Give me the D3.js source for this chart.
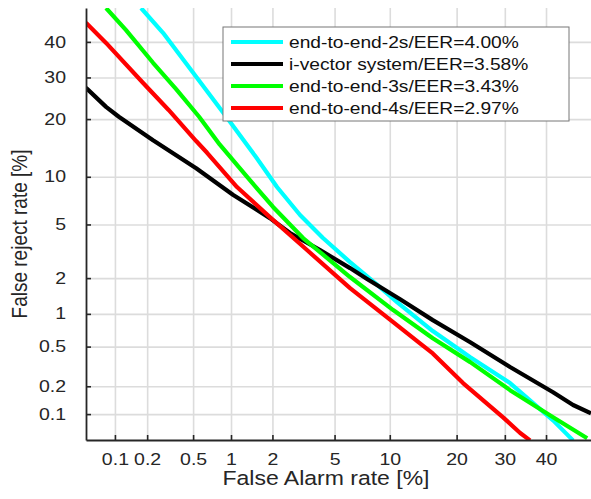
<!DOCTYPE html>
<html>
<head>
<meta charset="utf-8">
<script src="https://cdnjs.cloudflare.com/ajax/libs/d3/7.8.5/d3.min.js"></script>
<style>
  body { margin: 0; background: #fff; }
  text { font-family: "Liberation Sans", Arial, Helvetica, sans-serif; }
</style>
</head>
<body>
<div id="canvas"></div>
<script>
// tick labels (percent)
const xTicks = [0.1, 0.2, 0.5, 1, 2, 5, 10, 20, 30, 40];
const yTicks = [0.1, 0.2, 0.5, 1, 2, 5, 10, 20, 30, 40];
const xLim = [0.0518, 51.7];
const yLim = [0.0505, 50.2];

// DET curves, [false alarm %, false reject %]
const e2e2s = [[0.176, 50.2], [0.277, 42.7], [0.53, 30.2], [0.92, 20.5], [1.53, 12.9], [2.15, 8.7],
  [3.06, 5.79], [4.26, 4.02], [6.14, 2.67], [8.42, 1.82], [10.9, 1.26], [15.9, 0.70],
  [22.6, 0.395], [31.2, 0.216], [41.8, 0.085], [47.0, 0.050]];
const ivector = [[0.0518, 27.3], [0.082, 22.7], [0.109, 20.5], [0.226, 15.8], [0.53, 11.2], [1.04, 7.78],
  [1.92, 5.52], [2.63, 4.36], [4.09, 3.29], [6.14, 2.40], [7.62, 1.97], [11.25, 1.34], [15.9, 0.88],
  [22.6, 0.55], [31.2, 0.315], [41.8, 0.173], [47.0, 0.126], [51.7, 0.102]];
const e2e3s = [[0.082, 50.2], [0.127, 43.6], [0.226, 34.0], [0.36, 27.0], [0.56, 20.5], [0.82, 15.0],
  [1.32, 9.98], [2.02, 6.53], [3.2, 4.02], [6.14, 2.04], [10.4, 1.08], [15.9, 0.60],
  [22.6, 0.353], [31.2, 0.182], [41.8, 0.092], [50.7, 0.053]];
const e2e4s = [[0.0518, 45.7], [0.082, 39.7], [0.183, 28.6], [0.31, 22.0], [0.53, 15.65],
  [0.65, 13.6], [1.11, 8.7], [1.92, 5.6], [3.39, 3.29], [6.14, 1.66], [10.4, 0.845],
  [13.9, 0.54], [15.9, 0.43], [21.2, 0.216], [29.6, 0.092], [33.6, 0.061], [36.0, 0.050]];

const seriesNames = ["end-to-end-2s/EER=4.00%", "i-vector system/EER=3.58%",
  "end-to-end-3s/EER=3.43%", "end-to-end-4s/EER=2.97%"];
const seriesColors = ["#00ffff", "#000000", "#00ff00", "#ff0000"];
const seriesData = [e2e2s, ivector, e2e3s, e2e4s];

// inverse normal cdf (Acklam)
function probit(p) {
  const a = [-3.969683028665376e+01, 2.209460984245205e+02, -2.759285104469687e+02, 1.383577518672690e+02, -3.066479806614716e+01, 2.506628277459239e+00];
  const b = [-5.447609879822406e+01, 1.615858368580409e+02, -1.556989798598866e+02, 6.680131188771972e+01, -1.328068155288572e+01];
  const c = [-7.784894002430293e-03, -3.223964580411365e-01, -2.400758277161838e+00, -2.549732539343734e+00, 4.374664141464968e+00, 2.938163982698783e+00];
  const d = [7.784695709041462e-03, 3.224671290700398e-01, 2.445134137142996e+00, 3.754408661907416e+00];
  const plow = 0.02425;
  let q, r;
  if (p < plow) {
    q = Math.sqrt(-2 * Math.log(p));
    return (((((c[0]*q+c[1])*q+c[2])*q+c[3])*q+c[4])*q+c[5]) / ((((d[0]*q+d[1])*q+d[2])*q+d[3])*q+1);
  } else if (p <= 1 - plow) {
    q = p - 0.5; r = q * q;
    return (((((a[0]*r+a[1])*r+a[2])*r+a[3])*r+a[4])*r+a[5])*q / (((((b[0]*r+b[1])*r+b[2])*r+b[3])*r+b[4])*r+1);
  }
  q = Math.sqrt(-2 * Math.log(1 - p));
  return -(((((c[0]*q+c[1])*q+c[2])*q+c[3])*q+c[4])*q+c[5]) / ((((d[0]*q+d[1])*q+d[2])*q+d[3])*q+1);
}
const pz = v => probit(v / 100);

const w = 591, h = 499;
const margin = {top: 8, bottom: 59, left: 86, right: 0};
const width = w - margin.left - margin.right;
const height = h - margin.top - margin.bottom;
const stretch = 1.22; // text in the original is drawn a bit wide

const svg = d3.select("#canvas").append("svg").attr("width", w).attr("height", h);
const g = svg.append("g").attr("transform", `translate(${margin.left},${margin.top})`);

const x = d3.scaleLinear().domain(xLim.map(pz)).range([0, width]);
const y = d3.scaleLinear().domain(yLim.map(pz)).range([height, 0]);

// grid
g.append("g").attr("transform", `translate(0,${height})`)
  .call(d3.axisBottom(x).tickValues(xTicks.map(pz)).tickSize(-height).tickFormat(""))
  .call(s => s.select(".domain").remove())
  .selectAll("line").attr("stroke", "#dcdcdc").attr("stroke-width", 1.6);
g.append("g")
  .call(d3.axisLeft(y).tickValues(yTicks.map(pz)).tickSize(-width).tickFormat(""))
  .call(s => s.select(".domain").remove())
  .selectAll("line").attr("stroke", "#dcdcdc").attr("stroke-width", 1.6);

// curves
g.append("clipPath").attr("id", "clip").append("rect").attr("width", width).attr("height", height);
const line = d3.line().x(d => x(pz(d[0]))).y(d => y(pz(d[1])));
g.append("g").attr("clip-path", "url(#clip)")
  .selectAll("path").data(seriesData).enter().append("path")
  .attr("d", line)
  .attr("fill", "none")
  .attr("stroke", (d, i) => seriesColors[i])
  .attr("stroke-width", 4.2)
  .attr("stroke-linejoin", "round");

// axes
const xAxis = g.append("g").attr("transform", `translate(0,${height})`)
  .call(d3.axisBottom(x).tickValues(xTicks.map(pz)).tickFormat((d, i) => xTicks[i])
    .tickSizeInner(-5).tickSizeOuter(0));
const yAxis = g.append("g")
  .call(d3.axisLeft(y).tickValues(yTicks.map(pz)).tickFormat((d, i) => yTicks[i])
    .tickSizeInner(-5).tickSizeOuter(0));
[xAxis, yAxis].forEach(a => {
  a.select(".domain").attr("stroke", "#262626").attr("stroke-width", 1.8);
  a.selectAll(".tick line").attr("stroke", "#262626").attr("stroke-width", 1.6);
  a.selectAll("text").attr("font-size", 16).attr("fill", "#262626")
    .attr("font-family", "'Liberation Sans', Arial, sans-serif");
});
xAxis.selectAll("text").attr("y", 0).attr("dy", 0)
  .attr("transform", `translate(0,25) scale(${stretch},1)`);
yAxis.selectAll("text").attr("x", 0)
  .attr("transform", `translate(-20,0) scale(${stretch},1)`);

// labels
svg.append("text").attr("transform", `translate(326,485) scale(1.18,1)`)
  .attr("text-anchor", "middle")
  .attr("font-size", 19.5).attr("fill", "#262626").text("False Alarm rate [%]");
svg.append("text").attr("transform", `translate(27,234) scale(1.15,1) rotate(-90)`)
  .attr("text-anchor", "middle").attr("font-size", 19).attr("fill", "#262626")
  .text("False reject rate [%]");

// legend
const legend = svg.append("g").attr("transform", "translate(223,27)");
legend.append("rect").attr("width", 346).attr("height", 94)
  .attr("fill", "#fff").attr("stroke", "#777").attr("stroke-width", 1);
const item = legend.selectAll(".item").data(seriesNames).enter().append("g")
  .attr("transform", (d, i) => `translate(0,${15 + i * 22})`);
item.append("line").attr("x1", 8).attr("x2", 60)
  .attr("stroke", (d, i) => seriesColors[i]).attr("stroke-width", 4);
item.append("text").attr("transform", `translate(66,0) scale(1.2,1)`)
  .attr("dy", "0.35em").attr("font-size", 16)
  .attr("fill", "#111").text(d => d);
</script>
</body>
</html>
